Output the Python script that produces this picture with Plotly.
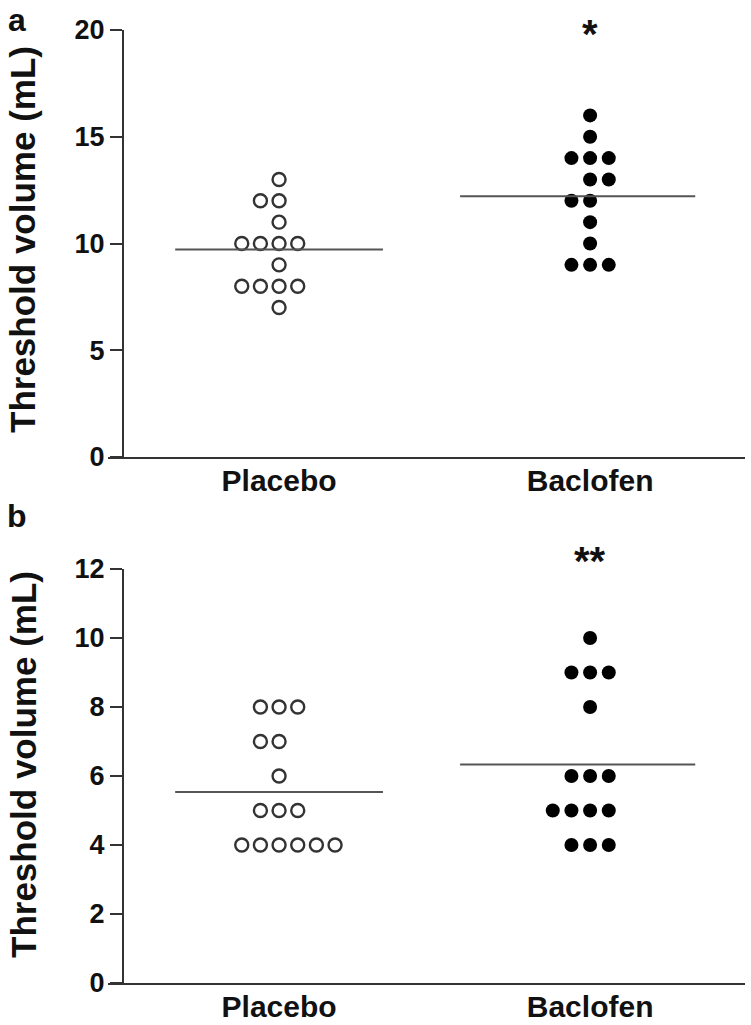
import plotly.graph_objects as go
import numpy as np

groups = ["Placebo", "Baclofen"]

# Panel a: threshold volume (mL), one value per subject, with dot-plot column slot
a_placebo = [13, 12, 12, 11, 10, 10, 10, 10, 9, 8, 8, 8, 8, 7]
a_placebo_col = [0, -1, 0, 0, -2, -1, 0, 1, 0, -2, -1, 0, 1, 0]
a_baclofen = [16, 15, 14, 14, 14, 13, 13, 12, 12, 11, 10, 9, 9, 9]
a_baclofen_col = [0, 0, -1, 0, 1, 0, 1, -1, 0, 0, 0, -1, 0, 1]

# Panel b
b_placebo = [8, 8, 8, 7, 7, 6, 5, 5, 5, 4, 4, 4, 4, 4, 4]
b_placebo_col = [-1, 0, 1, -1, 0, 0, -1, 0, 1, -2, -1, 0, 1, 2, 3]
b_baclofen = [10, 9, 9, 9, 8, 6, 6, 6, 5, 5, 5, 5, 4, 4, 4]
b_baclofen_col = [0, -1, 0, 1, 0, -1, 0, 1, -2, -1, 0, 1, -1, 0, 1]

a_ticks = [0, 5, 10, 15, 20]
b_ticks = [0, 2, 4, 6, 8, 10, 12]
signif = ["*", "**"]
panel_labels = ["a", "b"]
ytitle = "Threshold volume (mL)"

FONT = "Liberation Sans, Arial, sans-serif"
W, H = 751, 1025
OFF = 0  # body margin removed by post_script
STEP = 0.06

def fx(px):
    return (px - OFF) / W

def fy(py):
    return 1 - (py - OFF) / H

fig = go.Figure()

def add_panel(idx, placebo, pcol, baclofen, bcol):
    xa = "x" if idx == 1 else "x2"
    ya = "y" if idx == 1 else "y2"
    px = [1 + c * STEP for c in pcol]
    bx = [2 + c * STEP for c in bcol]
    fig.add_trace(go.Scatter(x=px, y=placebo, mode="markers", xaxis=xa, yaxis=ya,
                             marker=dict(symbol="circle-open", size=13, color="#333333",
                                         line=dict(width=2.4, color="#333333")),
                             showlegend=False, hoverinfo="skip"))
    fig.add_trace(go.Scatter(x=bx, y=baclofen, mode="markers", xaxis=xa, yaxis=ya,
                             marker=dict(symbol="circle", size=14, color="#000000"),
                             showlegend=False, hoverinfo="skip"))
    pm = float(np.mean(placebo))
    bm = float(np.mean(baclofen))
    fig.add_trace(go.Scatter(x=[0.666, 1.334], y=[pm, pm], mode="lines", xaxis=xa, yaxis=ya,
                             line=dict(color="#555555", width=2), showlegend=False, hoverinfo="skip"))
    fig.add_trace(go.Scatter(x=[1.582, 2.338], y=[bm, bm], mode="lines", xaxis=xa, yaxis=ya,
                             line=dict(color="#555555", width=2), showlegend=False, hoverinfo="skip"))

add_panel(1, a_placebo, a_placebo_col, a_baclofen, a_baclofen_col)
add_panel(2, b_placebo, b_placebo_col, b_baclofen, b_baclofen_col)

xdom = [fx(108), fx(745)]
yaxpos = fx(123)
dom_a = [fy(457), fy(30)]
dom_b = [fy(983), fy(569)]

xcommon = dict(range=[0.45, 2.498], domain=xdom, showline=True, linewidth=2, linecolor="#333333",
               ticks="", tickvals=[1, 2], ticktext=groups, showgrid=False, zeroline=False,
               ticklabelstandoff=-4,
               tickfont=dict(family=FONT, size=30, color="#111111", weight="bold"), fixedrange=True)
ycommon = dict(showline=True, linewidth=2, linecolor="#333333", ticks="outside", ticklen=12,
               tickwidth=2, tickcolor="#333333", showgrid=False, zeroline=False,
               anchor="free", position=yaxpos,
               tickfont=dict(family=FONT, size=27, color="#111111", weight="bold"))

fig.update_layout(
    width=W, height=H, margin=dict(l=0, r=0, t=0, b=0, autoexpand=False),
    paper_bgcolor="white", plot_bgcolor="white",
    xaxis=dict(anchor="y", **xcommon),
    yaxis=dict(domain=dom_a, range=[0, 20], tickvals=a_ticks, **ycommon),
    xaxis2=dict(anchor="y2", **xcommon),
    yaxis2=dict(domain=dom_b, range=[0, 12], tickvals=b_ticks, **ycommon),
)

ann = []
for lab, yp in zip(panel_labels, [20, 516]):
    ann.append(dict(text=lab, x=fx(17), y=fy(yp), xref="paper", yref="paper", showarrow=False,
                    xanchor="center", yanchor="middle",
                    font=dict(family=FONT, size=32, color="#111111", weight="bold")))
for yc in [240, 765]:
    ann.append(dict(text=ytitle, x=fx(23), y=fy(yc), xref="paper", yref="paper",
                    showarrow=False, textangle=-90, xanchor="center", yanchor="middle",
                    font=dict(family=FONT, size=35, color="#111111", weight="bold")))
for s, yc in zip(signif, [34, 561]):
    ann.append(dict(text=s, x=fx(590), y=fy(yc), xref="paper", yref="paper", showarrow=False,
                    xanchor="center", yanchor="middle",
                    font=dict(family=FONT, size=40, color="#111111", weight="bold")))
fig.update_layout(annotations=ann)

fig.write_html("out.html", config={"displayModeBar": False, "staticPlot": True},
               post_script="document.body.style.margin='0';document.body.style.padding='0';")
